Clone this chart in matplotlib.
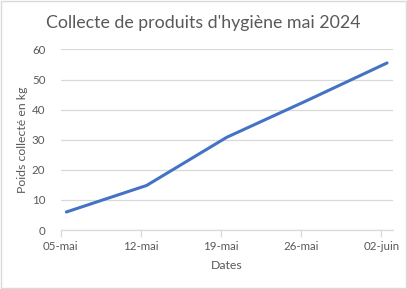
import numpy as np
import pandas as pd
import matplotlib
matplotlib.use("Agg")
import matplotlib.pyplot as plt
import matplotlib.dates as mdates
from matplotlib.patches import Rectangle

# donnees
dates = ["2024-05-05", "2024-05-12", "2024-05-19", "2024-05-26", "2024-06-02"]
poids = [6.0, 14.8, 30.8, 43.0, 55.5]
tick_labels = ["05-mai", "12-mai", "19-mai", "26-mai", "02-juin"]

plt.rcParams["font.family"] = ["Lato", "DejaVu Sans"]
txt = "#595959"
grid = "#D9D9D9"

x = pd.to_datetime(dates)
fig = plt.figure(figsize=(4.07, 2.89), dpi=100)
ax = fig.add_axes([0.149, 0.204, 0.816, 0.625])

# Excel: points au milieu de la journee
ax.plot(x + pd.Timedelta(hours=12), poids, color="#4472C4", lw=2.2,
        solid_capstyle="round")

ax.set_xlim(x[0], x[-1] + pd.Timedelta(days=1))
ax.set_ylim(0, 60)
ax.set_yticks(range(0, 61, 10))
ax.set_xticks(x)
ax.set_xticklabels(tick_labels)

ax.grid(axis="y", color=grid, lw=0.9)
ax.set_axisbelow(True)
for s in ["left", "right", "top"]:
    ax.spines[s].set_visible(False)
ax.spines["bottom"].set_color(grid)
ax.spines["bottom"].set_linewidth(0.9)
ax.tick_params(axis="y", length=0, pad=11, labelsize=8.3, colors=txt)
ax.tick_params(axis="x", length=5, width=0.9, color=grid, pad=3,
               labelsize=8.3, labelcolor=txt)

ax.set_xlabel("Dates", color=txt, fontsize=8.8, labelpad=6)
ax.set_ylabel("Poids collecté en kg", color=txt, fontsize=8.8, labelpad=4)
ax.yaxis.set_label_coords(-0.098, 0.5)
fig.text(0.5, 0.92, "Collecte de produits d'hygiène mai 2024",
         ha="center", va="center", color=txt, fontsize=12.8)

fig.patches.append(Rectangle((0.002, 0.003), 0.995, 0.994, transform=fig.transFigure,
                             fill=False, edgecolor=grid, lw=1))

fig.savefig("out.png", dpi=100)
